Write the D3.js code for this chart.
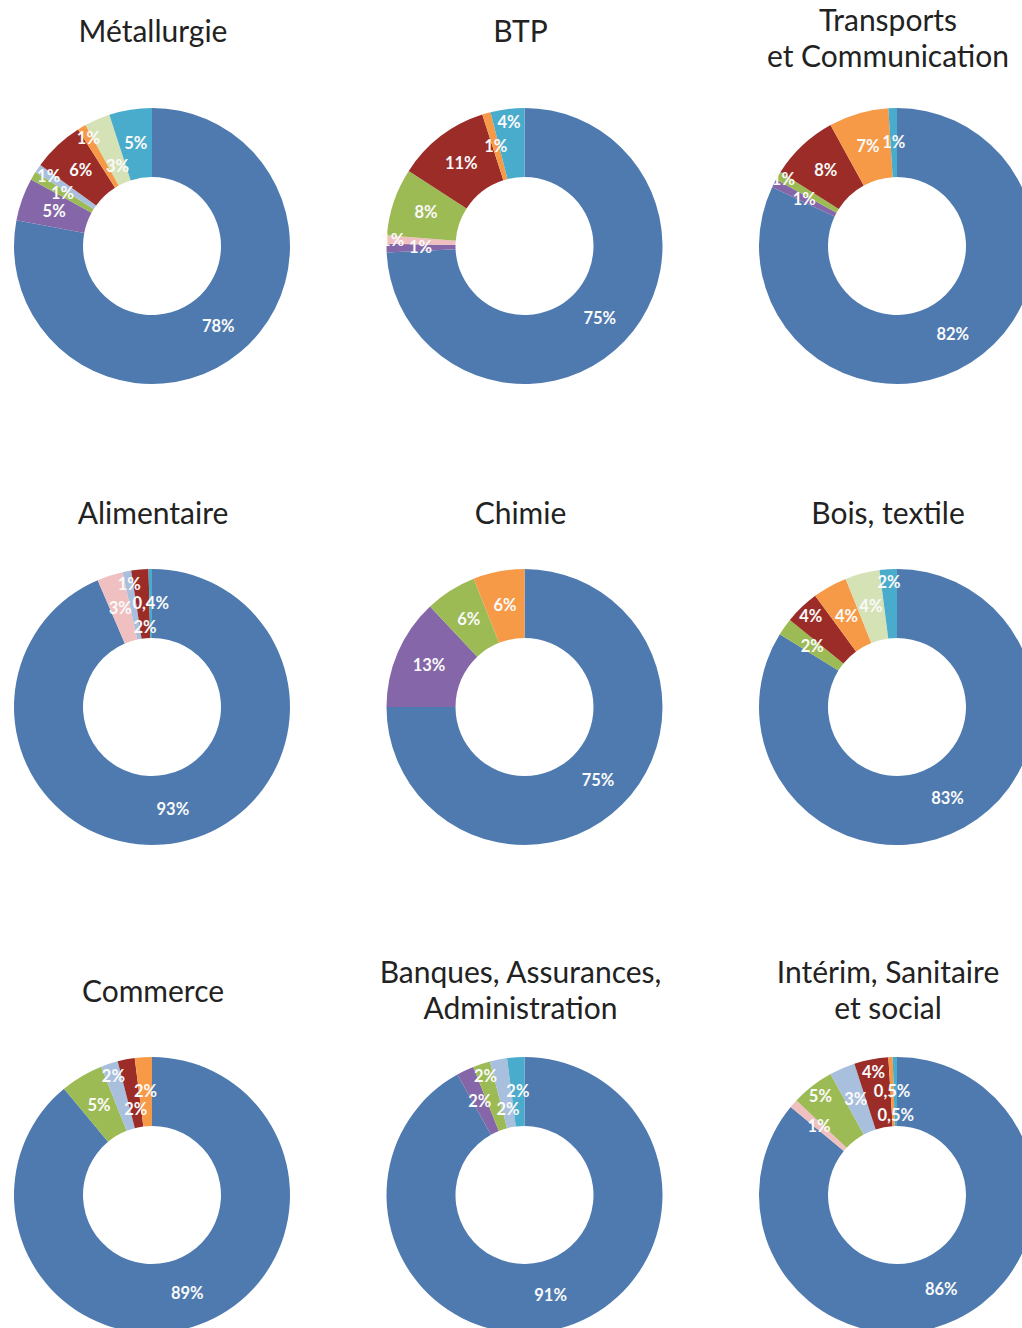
<!DOCTYPE html>
<html>
<head>
<meta charset="utf-8">
<script src="https://cdn.jsdelivr.net/npm/d3@7"></script>
<style>
  body { margin: 0; background: #fff; }
  svg { display: block; }
</style>
</head>
<body>
<script>
// Categories (legend not shown in the picture, named by colour)
var categories = ["bleu", "violet", "rose", "vert", "bleu clair", "rouge", "orange", "vert clair", "cyan"];
var colors = ["#4e7ab0", "#8566a8", "#f0c0c0", "#9dbb55", "#a9bfde", "#9b2c28", "#f79a48", "#d5e2b6", "#4aaccc"];

// Sector titles (\n = line break)
var sectors = [
  "Métallurgie", "BTP", "Transports\net Communication",
  "Alimentaire", "Chimie", "Bois, textile",
  "Commerce", "Banques, Assurances,\nAdministration", "Intérim, Sanitaire\net social"
];

// Percentages per sector, in the order of the categories above
var metallurgie = [78, 5, 0, 1, 1, 6, 1, 3, 5];
var btp         = [75, 1, 1, 8, 0, 11, 1, 0, 4];
var transports  = [82, 1, 0, 1, 0, 8, 7, 0, 1];
var alimentaire = [93, 0, 3, 0, 1, 2, 0, 0, 0.4];
var chimie      = [75, 13, 0, 6, 0, 0, 6, 0, 0];
var bois        = [83, 0, 0, 2, 0, 4, 4, 4, 2];
var commerce    = [89, 0, 0, 5, 2, 2, 2, 0, 0];
var banques     = [91, 2, 0, 2, 2, 0, 0, 0, 2];
var interim     = [86, 0, 1, 5, 3, 4, 0.5, 0, 0.5];

var values = [metallurgie, btp, transports, alimentaire, chimie, bois, commerce, banques, interim];

var width = 1022, height = 1328;
var outerR = 138, innerR = 69;
var rowCenters = [246, 707, 1195];
var titleY = [31, 513, 991];
var twoLineTop = [20, 495, 972];

var svg = d3.select("body").append("svg")
  .attr("width", width)
  .attr("height", height);

var x = d3.scalePoint().domain([0, 1, 2]).range([152, 897]);
var xTitle = d3.scalePoint().domain([0, 1, 2]).range([153, 888]);
var color = d3.scaleOrdinal().domain(categories).range(colors);

var pie = d3.pie().sort(null).value(function (d) { return d.value; });
var arc = d3.arc().innerRadius(innerR).outerRadius(outerR);

var fmt = function (v) { return String(v).replace(".", ",") + "%"; };

// overlap area of two label boxes
function overlap(a, b) {
  var ox = (a.w + b.w) / 2 - Math.abs(a.x - b.x);
  var oy = (a.h + b.h) / 2 - Math.abs(a.y - b.y);
  return ox > 0 && oy > 0 ? ox * oy : 0;
}

sectors.forEach(function (name, i) {
  var col = i % 3, row = Math.floor(i / 3);
  var cx = x(col), cy = rowCenters[row];
  var g = svg.append("g").attr("transform", "translate(" + cx + "," + cy + ")");

  var data = categories.map(function (c, j) { return { cat: c, value: values[i][j] }; })
    .filter(function (d) { return d.value > 0; });
  var arcs = pie(data);

  g.selectAll("path")
    .data(arcs)
    .enter().append("path")
    .attr("d", arc)
    .attr("fill", function (d) { return color(d.data.cat); });

  // labels: centroid, pushed out / in when they would overlap a previous one
  var placed = [];
  arcs.forEach(function (d) {
    var a = (d.startAngle + d.endAngle) / 2;
    var txt = fmt(d.data.value);
    var w = (txt.length - 1) * 9.5 + 15, h = 17;
    var radii = [104, 125, 87, 132, 80, 116, 94];
    var best = null, bestCost = Infinity;
    for (var k = 0; k < radii.length; k++) {
      var cand = { x: Math.sin(a) * radii[k], y: -Math.cos(a) * radii[k], w: w, h: h };
      var cost = d3.sum(placed, function (p) { return overlap(p, cand); }) + k * 0.01;
      if (cost < bestCost) { bestCost = cost; best = cand; }
      if (cost < 1) break;
    }
    placed.push(best);
    g.append("text")
      .attr("x", best.x)
      .attr("y", best.y)
      .attr("dy", "0.35em")
      .attr("text-anchor", "middle")
      .style("font-family", "Lato, sans-serif")
      .style("font-weight", "bold")
      .style("font-size", "16.5px")
      .style("fill", "#fafafa")
      .text(txt);
  });

  // title
  var lines = name.split("\n");
  var tx = xTitle(col);
  var t = svg.append("text")
    .attr("x", tx)
    .attr("text-anchor", "middle")
    .style("font-family", "Lato, sans-serif")
    .style("font-size", "30px")
    .style("fill", "#222");
  lines.forEach(function (l, k) {
    var yy = lines.length === 1 ? titleY[row] : twoLineTop[row] + k * 36;
    t.append("tspan").attr("x", tx).attr("y", yy).attr("dy", "0.35em").text(l);
  });
});
</script>
</body>
</html>
